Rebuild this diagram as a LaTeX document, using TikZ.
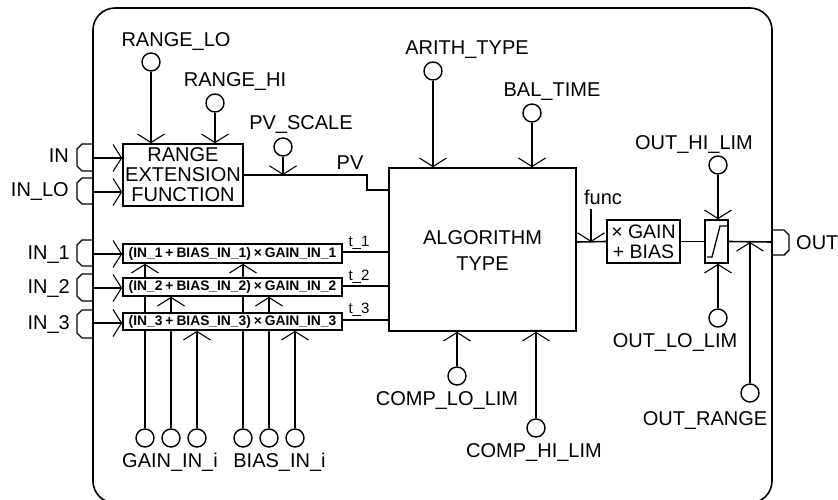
\documentclass[tikz,border=0pt]{standalone}
\usepackage{fontspec}
\setmainfont{Liberation Sans}
\usetikzlibrary{arrows.meta}
\pgfdeclarelayer{bg}
\pgfdeclarelayer{conn}
\pgfsetlayers{bg,conn,main}
\tikzset{
  thick line/.style={line width=1.6pt},
  lbl/.style={inner sep=0pt,text height=14.5pt,text depth=0pt,font=\fontsize{20}{20}\selectfont},
  smalllbl/.style={inner sep=0pt,text height=10.5pt,text depth=0pt,font=\fontsize{15}{15}\selectfont},
  bigbox/.style={draw,thick line,fill=white,inner sep=0pt,align=center,font=\fontsize{20}{20}\selectfont},
  calcbox/.style={draw,thick line,fill=white,inner sep=0pt,minimum width=219pt,font=\fontsize{13.8}{14}\bfseries\selectfont},
  pin/.style={draw,line width=1.4pt,circle,minimum size=18pt,inner sep=0pt},
  conn/.style={thick line},
  arr/.style={thick line,-{Straight Barb[length=8.5pt,width=27pt,line width=1.1pt]}},
}
\newcommand{\calctext}[1]{(IN\_#1\hspace{3pt}+\hspace{3pt}BIAS\_IN\_#1)\hspace{3pt}×\hspace{3pt}GAIN\_IN\_#1}
\begin{document}
\begin{tikzpicture}[x=1pt,y=-1pt]
\useasboundingbox (0,0) rectangle (838,499);
\begin{pgfonlayer}{bg}
\fill[white] (0,0) rectangle (838,499);
\end{pgfonlayer}
\clip (0,0) rectangle (838,499);
% outer block
\draw[line width=1.6pt,rounded corners=22pt] (93,8) rectangle (772,503);
% boxes
\node[bigbox,minimum width=120pt,minimum height=62pt] (range) at (183,175) {RANGE\\EXTENSION\\FUNCTION};
\node[calcbox,minimum height=19pt] (box1) at (232.5,253.5) {\calctext{1}};
\node[calcbox,minimum height=18pt] (box2) at (232.5,287) {\calctext{2}};
\node[calcbox,minimum height=17pt] (box3) at (232.5,321.5) {\calctext{3}};
\node[bigbox,minimum width=187pt,minimum height=163pt] (algo) at (482.5,249.5) {\rule{0pt}{15pt}ALGORITHM\\[6pt]TYPE};
\node[bigbox,minimum width=73pt,minimum height=43pt,font=\fontsize{19.5}{20}\selectfont] (gain) at (643.5,241.5) {× GAIN\\+ BIAS};
\node[draw,thick line,fill=white,minimum width=23pt,minimum height=43pt,inner sep=0pt] (lim) at (716.5,241.5) {};
\draw[line width=1.3pt] (707,257) -- (712,257) -- (720,226) -- (727,226);
% pins
\node[pin] (rlo) at (151,62) {};
\node[pin] (rhi) at (215,103) {};
\node[pin] (pvs) at (283,147) {};
\node[pin] (ari) at (433,71) {};
\node[pin] (bal) at (532,113) {};
\node[pin] (ohi) at (718,165) {};
\node[pin] (olo) at (718,318) {};
\node[pin] (orng) at (750,393) {};
\node[pin] (clo) at (457,376) {};
\node[pin] (chi) at (536,428) {};
\node[pin] (g1) at (145,438) {};
\node[pin] (g2) at (171,438) {};
\node[pin] (g3) at (197,438) {};
\node[pin] (b1) at (243,438) {};
\node[pin] (b2) at (269,438) {};
\node[pin] (b3) at (295,438) {};
% labels
\node[lbl] (lrlo) at (176,39) {RANGE\_LO};
\node[lbl] (lrhi) at (235,79) {RANGE\_HI};
\node[lbl] (lpvs) at (301,122) {PV\_SCALE};
\node[lbl] (lpv) at (350,162) {PV};
\node[lbl] (lari) at (467,47) {ARITH\_TYPE};
\node[lbl] (lbal) at (552,89) {BAL\_TIME};
\node[lbl] (lfunc) at (603,197) {func};
\node[lbl] (lohi) at (694,142) {OUT\_HI\_LIM};
\node[lbl] (lolo) at (675,340) {OUT\_LO\_LIM};
\node[lbl] (lorng) at (705,418) {OUT\_RANGE};
\node[lbl] (lclo) at (447,398) {COMP\_LO\_LIM};
\node[lbl] (lchi) at (534,450) {COMP\_HI\_LIM};
\node[lbl] (lgain) at (170,460) {GAIN\_IN\_i};
\node[lbl] (lbias) at (279.5,460) {BIAS\_IN\_i};
\node[lbl,anchor=east] (lin) at (69,155) {IN};
\node[lbl,anchor=east] (linlo) at (69,189) {IN\_LO};
\node[lbl,anchor=east] (lin1) at (70,252) {IN\_1};
\node[lbl,anchor=east] (lin2) at (70,286) {IN\_2};
\node[lbl,anchor=east] (lin3) at (70,322) {IN\_3};
\node[lbl,anchor=west] (lout) at (796,242) {OUT};
\node[smalllbl] (lt1) at (359,241) {t\_1};
\node[smalllbl] (lt2) at (359,275) {t\_2};
\node[smalllbl] (lt3) at (359,308) {t\_3};
% free ends
\coordinate (in) at (93,158);
\coordinate (inlo) at (93,192);
\coordinate (in1) at (93,254);
\coordinate (in2) at (93,288);
\coordinate (in3) at (93,323);
\coordinate (t1) at (389,252);
\coordinate (t2) at (389,286);
\coordinate (t3) at (389,320);
\coordinate (pvk) at (367,190);
\coordinate (fo) at (576,242);
\coordinate (fs) at (591,209);
\coordinate (outp) at (772,242);
% input / output connectors
\foreach \t/\b in {144/171,178/204,240/266,274/301,310/338}
  \draw[line width=1.4pt] (93,\t) -- (82,\t) -- (77,\t+5) -- (77,\b-5) -- (82,\b) -- (93,\b);
\draw[line width=1.4pt] (772,230) -- (784,230) -- (789,235) -- (789,250) -- (784,255) -- (772,255);
\begin{pgfonlayer}{conn}
\draw[arr] (in) -- (in -| range.west);
\draw[arr] (inlo) -- (inlo -| range.west);
\draw[arr] (in1) -- (in1 -| box1.west);
\draw[arr] (in2) -- (in2 -| box2.west);
\draw[arr] (in3) -- (in3 -| box3.west);
\draw[arr] (rlo) -- (rlo |- range.north);
\draw[arr] (rhi) -- (rhi |- range.north);
\draw[arr] (pvs) -- (pvs |- range.east);
\draw[conn] (range.east) -| (pvk) -- (pvk -| algo.west);
\draw[conn] (box1.east |- t1) -- (t1);
\draw[conn] (box2.east |- t2) -- (t2);
\draw[conn] (box3.east |- t3) -- (t3);
\draw[arr] (g1) -- (g1 |- box1.south);
\draw[arr] (g2) -- (g2 |- box2.south);
\draw[arr] (g3) -- (g3 |- box3.south);
\draw[arr] (b1) -- (b1 |- box1.south);
\draw[arr] (b2) -- (b2 |- box2.south);
\draw[arr] (b3) -- (b3 |- box3.south);
\draw[arr] (ari) -- (ari |- algo.north);
\draw[arr] (bal) -- (bal |- algo.north);
\draw[arr] (clo) -- (clo |- algo.south);
\draw[arr] (chi) -- (chi |- algo.south);
\draw[conn] (fo) -- (gain.west);
\draw[arr] (fs) -- (fs |- fo);
\draw[conn] (gain.east) -- (lim.west);
\draw[conn] (lim.east) -- (outp);
\draw[arr] (ohi) -- (ohi |- lim.north);
\draw[arr] (olo) -- (olo |- lim.south);
\draw[arr] (orng) -- (orng |- outp);
\end{pgfonlayer}
\end{tikzpicture}
\end{document}
